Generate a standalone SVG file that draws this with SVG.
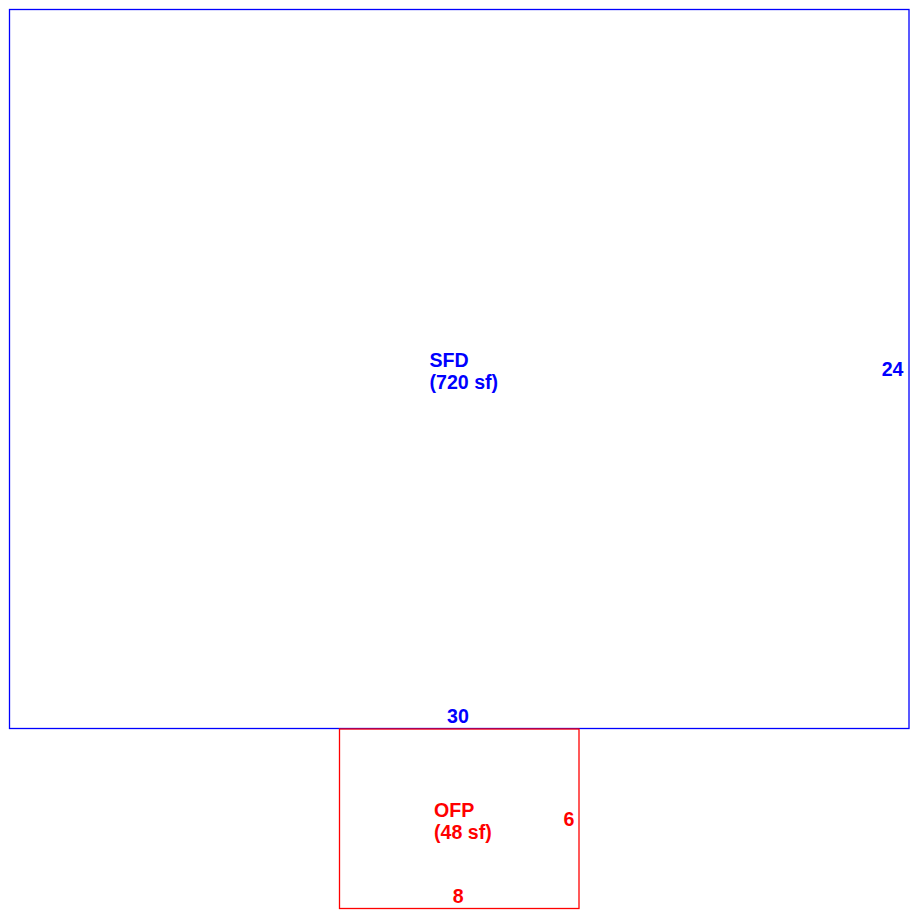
<svg xmlns="http://www.w3.org/2000/svg" width="920" height="920" viewBox="0 0 920 920">
<style>
text{font-family:"Liberation Sans",Arial,sans-serif;font-weight:bold;font-size:19.6px}
.b{fill:#0000ff}
.r{fill:#ff0000}
.bs{fill:none;stroke:#0000ff;stroke-width:1.3}
.rs{fill:none;stroke:#ff0000;stroke-width:1.3}
</style>
<rect width="920" height="920" fill="#ffffff"/>
<g id="sfd">
<rect class="bs" x="9.5" y="9.5" width="899.5" height="719"/>
<text class="b" x="429.5" y="367">SFD</text>
<text class="b" x="429.5" y="388.5">(720 sf)</text>
<text class="b" x="903.5" y="376" text-anchor="end">24</text>
<text class="b" x="458" y="722.5" text-anchor="middle">30</text>
</g>
<g id="ofp">
<rect class="rs" x="339.5" y="729" width="239.5" height="179.5"/>
<text class="r" x="434" y="817">OFP</text>
<text class="r" x="434" y="838.5">(48 sf)</text>
<text class="r" x="574.5" y="826" text-anchor="end">6</text>
<text class="r" x="458.3" y="902.5" text-anchor="middle">8</text>
</g>
<g id="connectors"/>
</svg>
